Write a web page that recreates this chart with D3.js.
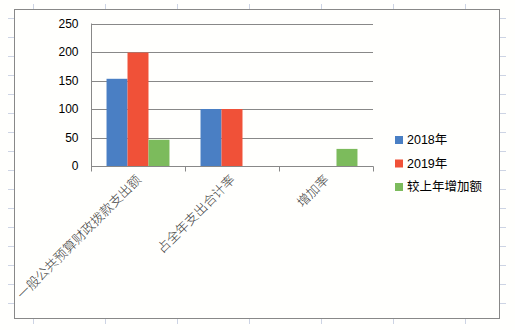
<!DOCTYPE html>
<html>
<head>
<meta charset="utf-8">
<script src="https://cdn.jsdelivr.net/npm/d3@7"></script>
<style>
  body { margin: 0; background: #fffffd; }
  svg { display: block; }
</style>
</head>
<body>
<script>
// Data
const categories = ['一般公共预算财政拨款支出额', '占全年支出合计率', '增加率']
const seriesNames = ['2018年', '2019年', '较上年增加额']
const v2018 = [153, 100, 0]
const v2019 = [199, 100, 0]
const vIncrease = [46, 0, 30]
const yTicks = [0, 50, 100, 150, 200, 250]
const colors = ['#4a7fc4', '#f05138', '#7cbb5c']

const W = 515, H = 330
const svg = d3.select('body').append('svg')
    .attr('width', W)
    .attr('height', H)
    .style('background-color', '#fffffd')

// spreadsheet cell marks around the chart object
const deco = svg.append('g').attr('stroke', '#cdd4e4').attr('stroke-width', 1)
d3.range(18, 320, 19).forEach(y => {
    deco.append('line').attr('x1', 8).attr('x2', 14).attr('y1', y + 0.5).attr('y2', y + 0.5)
    deco.append('line').attr('x1', 500).attr('x2', 506).attr('y1', y + 0.5).attr('y2', y + 0.5)
})
d3.range(33, 500, 72).forEach(x => {
    deco.append('line').attr('x1', x + 0.5).attr('x2', x + 0.5).attr('y1', 4).attr('y2', 9)
    deco.append('line').attr('x1', x + 0.5).attr('x2', x + 0.5).attr('y1', 319).attr('y2', 324)
})

// chart frame
svg.append('rect')
    .attr('x', 14.5).attr('y', 9.5)
    .attr('width', 485).attr('height', 309)
    .attr('fill', '#fffffd')
    .attr('stroke', '#888')

const plot = { left: 91, right: 373, top: 23.5, bottom: 166 }

const x0 = d3.scaleBand()
    .domain(categories)
    .range([plot.left, plot.right])
    .paddingInner(0).paddingOuter(0)

const x1 = d3.scaleBand()
    .domain(seriesNames)
    .range([0, x0.bandwidth()])
    .paddingOuter(0.74).paddingInner(0)

const y = d3.scaleLinear()
    .domain([0, 250])
    .range([plot.bottom, plot.top])

// gridlines
svg.append('g').selectAll('line')
    .data(yTicks.slice(1))
    .enter().append('line')
    .attr('x1', plot.left).attr('x2', plot.right)
    .attr('y1', d => Math.round(y(d)) + 0.5).attr('y2', d => Math.round(y(d)) + 0.5)
    .attr('stroke', '#888')

// bars
const series = [v2018, v2019, vIncrease]
const groups = svg.append('g').selectAll('g')
    .data(series)
    .enter().append('g')
    .attr('fill', (d, i) => colors[i])

groups.selectAll('rect')
    .data((d, i) => d.map((v, j) => ({ v, cat: categories[j], s: seriesNames[i] })))
    .enter().append('rect')
    .attr('x', d => x0(d.cat) + x1(d.s))
    .attr('width', x1.bandwidth())
    .attr('y', d => y(d.v))
    .attr('height', d => y(0) - y(d.v))

// y axis
const yAxis = svg.append('g')
    .attr('transform', `translate(${plot.left + 0.5},0)`)
    .call(d3.axisLeft(y).tickValues(yTicks).tickSize(0).tickPadding(13))
yAxis.select('.domain').remove()
yAxis.append('path').attr('d', `M0,${plot.top}V${plot.bottom + 0.5}`).attr('stroke', '#888')
yAxis.selectAll('text')
    .style('font-family', 'Liberation Sans, Arial, sans-serif')
    .style('font-size', '12px')
    .attr('fill', '#000')

// x axis
const xAxis = svg.append('g')
    .attr('transform', `translate(0,${plot.bottom + 0.5})`)
xAxis.append('line')
    .attr('x1', plot.left).attr('x2', plot.right + 0.5)
    .attr('stroke', '#888')
xAxis.selectAll('.tk')
    .data(categories.concat(['end']))
    .enter().append('line')
    .attr('x1', (d, i) => Math.round(plot.left + i * x0.bandwidth()) + 0.5)
    .attr('x2', (d, i) => Math.round(plot.left + i * x0.bandwidth()) + 0.5)
    .attr('y1', 0).attr('y2', 5)
    .attr('stroke', '#888')

xAxis.selectAll('.lbl')
    .data(categories)
    .enter().append('text')
    .attr('transform', d => `translate(${x0(d) + x0.bandwidth() / 2 + 4},${14}) rotate(-45)`)
    .attr('text-anchor', 'end')
    .style('font-family', 'Noto Sans CJK SC, sans-serif')
    .style('font-size', '13px')
    .style('font-weight', 300)
    .attr('fill', '#404040')
    .text(d => d)

// legend
const legend = svg.append('g')
    .attr('transform', 'translate(395,136)')
const li = legend.selectAll('g')
    .data(seriesNames)
    .enter().append('g')
    .attr('transform', (d, i) => `translate(0,${i * 23.5})`)
li.append('rect')
    .attr('width', 8).attr('height', 8)
    .attr('fill', (d, i) => colors[i])
li.append('text')
    .attr('x', 12).attr('y', 8)
    .style('font-family', 'Liberation Sans, Noto Sans CJK SC, sans-serif')
    .style('font-size', '12.5px')
    .attr('fill', '#000')
    .text(d => d)
</script>
</body>
</html>
